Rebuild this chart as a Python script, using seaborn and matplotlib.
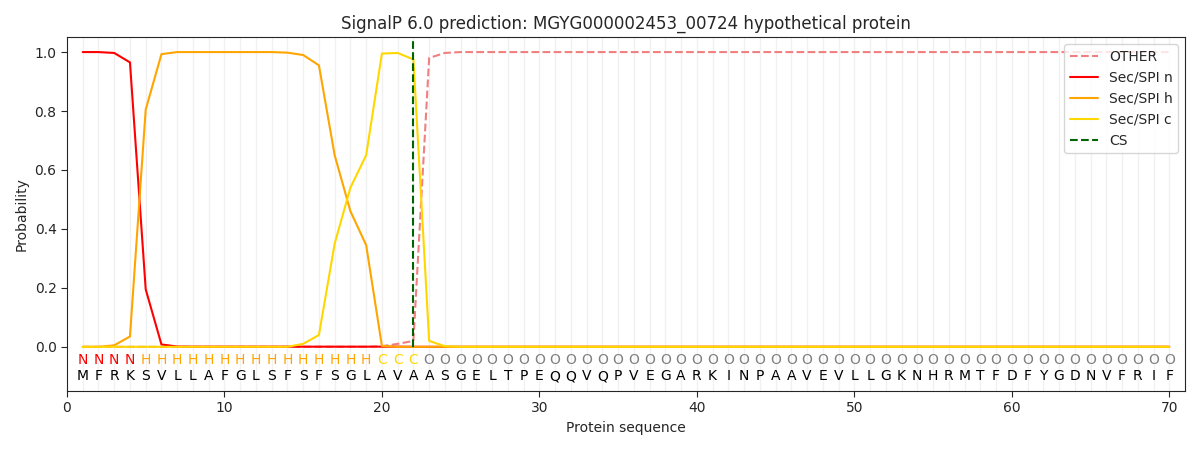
import numpy as np
import pandas as pd
import seaborn as sns
import matplotlib
matplotlib.use("Agg")
import matplotlib.pyplot as plt

sns.set_style("white")

# ---------------------------------------------------------------------------
# data
# ---------------------------------------------------------------------------
sequence = list("MFRKSVLLAFGLSFSFSGLAVAASGELTPEQQVQPVEGARKINPAAVEVLLGKNHRMTFDFYGDNVFRIF")
regions = list("NNNN" + "H" * 15 + "CCC" + "O" * 48)

n_prob = [1.0, 1.0, 0.997, 0.965, 0.195, 0.008, 0.001] + [0.0005] * 14 + [0.0] * 49
h_prob = [0.0, 0.0, 0.005, 0.035, 0.805, 0.993, 1.0, 1.0, 1.0, 1.0, 1.0, 1.0, 1.0,
          0.998, 0.99, 0.955, 0.65, 0.46, 0.345, 0.003] + [0.0] * 50
c_prob = [0.0] * 14 + [0.01, 0.04, 0.35, 0.54, 0.65, 0.995, 0.997, 0.975, 0.02,
                       0.002] + [0.0] * 46
other_prob = [0.0] * 19 + [0.002, 0.01, 0.02, 0.98, 0.997] + [1.0] * 46
cs_pos = 22

title = "SignalP 6.0 prediction: MGYG000002453_00724 hypothetical protein"

pos = np.arange(1, len(sequence) + 1)
df = pd.DataFrame({"pos": pos, "OTHER": other_prob, "Sec/SPI n": n_prob,
                   "Sec/SPI h": h_prob, "Sec/SPI c": c_prob})

line_styles = {"OTHER": ("#f08080", "--"), "Sec/SPI n": ("red", "-"),
               "Sec/SPI h": ("orange", "-"), "Sec/SPI c": ("gold", "-")}
region_colors = {"N": "red", "H": "orange", "C": "gold", "O": "gray"}

fig, ax = plt.subplots(figsize=(12, 4.5), dpi=100)

for x in pos:
    ax.axvline(x, color="#e8e8e8", linewidth=1, alpha=0.6, zorder=0)

for label, (color, ls) in line_styles.items():
    sns.lineplot(data=df, x="pos", y=label, color=color, linestyle=ls,
                 label=label, ax=ax, linewidth=1.5)

ax.vlines(cs_pos, 0, 1.04, color="darkgreen", linestyle="--", linewidth=1.5,
          label="CS")

for x, reg, aa in zip(pos, regions, sequence):
    ax.text(x, -0.045, reg, color=region_colors[reg], ha="center", va="center",
            fontsize=10)
    ax.text(x, -0.1, aa, color="black", ha="center", va="center", fontsize=10)

ax.set_xlim(0, 71)
ax.set_ylim(-0.15, 1.05)
ax.set_xticks(range(0, 71, 10))
ax.set_yticks([0.0, 0.2, 0.4, 0.6, 0.8, 1.0])
ax.tick_params(axis="both", direction="out", length=4, left=True, bottom=True)
ax.set_xlabel("Protein sequence")
ax.set_ylabel("Probability")
ax.set_title(title)
ax.legend(loc="upper right")

plt.tight_layout()
plt.savefig("out.png")
